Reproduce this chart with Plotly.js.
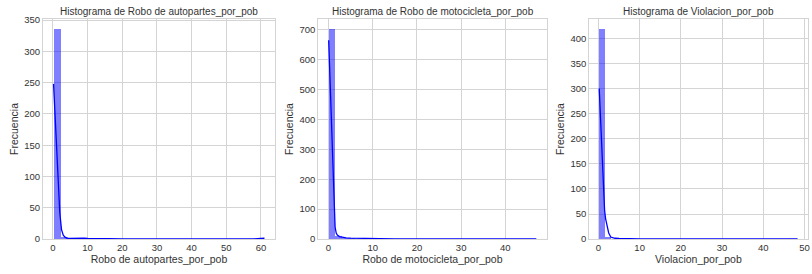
<!DOCTYPE html>
<html>
<head>
<meta charset="utf-8">
<script src="https://cdn.plot.ly/plotly-3.0.1.min.js"></script>
<style>html,body{margin:0;padding:0;background:#fff;}#chart{width:812px;height:274px;}</style>
</head>
<body>
<div id="chart"></div>
<script>
// ---- data ----
const titles = ["Histograma de Robo de autopartes_por_pob", "Histograma de Robo de motocicleta_por_pob", "Histograma de Violacion_por_pob"];
const xLabels = ["Robo de autopartes_por_pob", "Robo de motocicleta_por_pob", "Violacion_por_pob"];
const yLabel = "Frecuencia";

const range1 = [0.2, 61];
const counts1 = [335, 3, 1, 1, 0, 1, 0, 1, 0, 0, 0, 0, 0, 0, 0, 0, 0, 0, 0, 0, 0, 0, 0, 0, 0, 0, 0, 0, 0, 1];
const kdeX1 = [0.2, 0.5, 1, 1.5, 2, 2.5, 3, 3.5, 4, 5, 6, 7, 8, 9, 10, 12, 14, 16, 20, 25, 30, 40, 50, 55, 58, 60, 61];
const kdeY1 = [248, 213, 156, 98, 42, 15, 6, 3, 1.5, 0.8, 1, 1.6, 2, 1.4, 0.8, 0.4, 0.6, 0.4, 0.15, 0.05, 0.02, 0.01, 0.02, 0.05, 0.3, 0.9, 1.2];

const range2 = [0.05, 47];
const counts2 = [701, 10, 4, 2, 1, 1, 1, 0, 1, 0, 0, 0, 0, 0, 0, 0, 0, 0, 0, 0, 0, 0, 0, 1, 0, 0, 0, 0, 0, 0, 0, 1];
const kdeX2 = [0.05, 0.25, 0.5, 0.75, 1, 1.25, 1.5, 1.75, 2, 2.5, 3, 4, 5, 6, 8, 10, 12, 15, 20, 25, 30, 35, 40, 45, 47];
const kdeY2 = [665, 570, 450, 330, 210, 95, 40, 20, 13, 8, 6, 4, 3, 2.5, 1.5, 1.2, 0.6, 0.3, 0.2, 0.1, 0.3, 0.8, 0.3, 0.2, 0.5];

const range3 = [0.2, 48.3];
const counts3 = [419, 4, 1, 1, 0, 0, 0, 1, 0, 0, 0, 0, 0, 1, 0, 0, 0, 0, 0, 0, 1, 0, 0, 0, 0, 0, 0, 0, 0, 0, 0, 0, 1];
const kdeX3 = [0.2, 0.5, 0.75, 1, 1.25, 1.5, 1.75, 2, 2.5, 3, 3.5, 4, 5, 6, 8, 10, 15, 20, 25, 30, 35, 40, 45, 48.3];
const kdeY3 = [301, 242, 193, 144, 95, 58, 40, 30, 12, 4, 2, 1.5, 1, 0.6, 0.4, 0.3, 0.3, 0.5, 0.3, 0.5, 0.2, 0.1, 0.1, 0.2];

const yTicks1 = [0, 50, 100, 150, 200, 250, 300, 350];
const yTicks2 = [0, 100, 200, 300, 400, 500, 600, 700];
const yTicks3 = [0, 50, 100, 150, 200, 250, 300, 350, 400];
const xTicks1 = [0, 10, 20, 30, 40, 50, 60];
const xTicks2 = [0, 10, 20, 30, 40];
const xTicks3 = [0, 10, 20, 30, 40, 50];

// ---- build ----
const panels = [
  {range: range1, counts: counts1, kx: kdeX1, ky: kdeY1, yt: yTicks1, xt: xTicks1},
  {range: range2, counts: counts2, kx: kdeX2, ky: kdeY2, yt: yTicks2, xt: xTicks2},
  {range: range3, counts: counts3, kx: kdeX3, ky: kdeY3, yt: yTicks3, xt: xTicks3}
];
const W = 812, H = 274;
const xDom = [[43 / W, 275 / W], [318.3 / W, 546.7 / W], [589.3 / W, 807.5 / W]];
const yDom = [(H - 239) / H, (H - 19) / H];
const font = {family: "Liberation Sans, Arial, sans-serif", color: "#333333"};
const gridC = "#d4d4d4";

const traces = [];
const layout = {
  width: W, height: H, margin: {l: 0, r: 0, t: 0, b: 0},
  paper_bgcolor: "#ffffff", plot_bgcolor: "#ffffff",
  showlegend: false, font: Object.assign({size: 9}, font),
  annotations: [], bargap: 0
};

panels.forEach((p, i) => {
  const n = i + 1;
  const xa = n === 1 ? "x" : "x" + n, ya = n === 1 ? "y" : "y" + n;
  const bw = (p.range[1] - p.range[0]) / p.counts.length;
  const centers = p.counts.map((_, k) => p.range[0] + bw * (k + 0.5));
  traces.push({
    type: "bar", x: centers, y: p.counts, width: bw, xaxis: xa, yaxis: ya,
    marker: {color: "rgba(0,0,255,0.5)", line: {width: 0}}, hoverinfo: "skip"
  });
  traces.push({
    type: "scatter", mode: "lines", x: p.kx, y: p.ky, xaxis: xa, yaxis: ya,
    line: {color: "#0000ff", width: 1.3}, hoverinfo: "skip"
  });
  const span = p.range[1] - p.range[0];
  const maxC = Math.max(...p.counts);
  const axX = {
    domain: xDom[i], anchor: ya,
    range: [p.range[0] - 0.05 * span, p.range[1] + 0.05 * span],
    tickvals: p.xt, showgrid: true, gridcolor: gridC, gridwidth: 1,
    zeroline: false, showline: true, linecolor: gridC, linewidth: 1, mirror: true,
    ticks: "", tickfont: Object.assign({size: 9.5}, font), ticklabeloverflow: "allow",
    title: {text: xLabels[i], font: Object.assign({size: 10.5}, font), standoff: 2}
  };
  const axY = {
    domain: yDom, anchor: xa,
    range: [0, maxC * 1.05],
    tickvals: p.yt, showgrid: true, gridcolor: gridC, gridwidth: 1,
    zeroline: false, showline: true, linecolor: gridC, linewidth: 1, mirror: true,
    ticks: "", tickfont: Object.assign({size: 9.5}, font),
    title: {text: yLabel, font: Object.assign({size: 10.5}, font), standoff: 3}
  };
  layout["xaxis" + (n === 1 ? "" : n)] = axX;
  layout["yaxis" + (n === 1 ? "" : n)] = axY;
  layout.annotations.push({
    text: titles[i], xref: "paper", yref: "paper",
    x: (xDom[i][0] + xDom[i][1]) / 2, y: (H - 11.5) / H,
    xanchor: "center", yanchor: "middle", showarrow: false,
    font: Object.assign({size: 10}, font)
  });
});

Plotly.newPlot("chart", traces, layout, {staticPlot: true, displayModeBar: false});
</script>
</body>
</html>
